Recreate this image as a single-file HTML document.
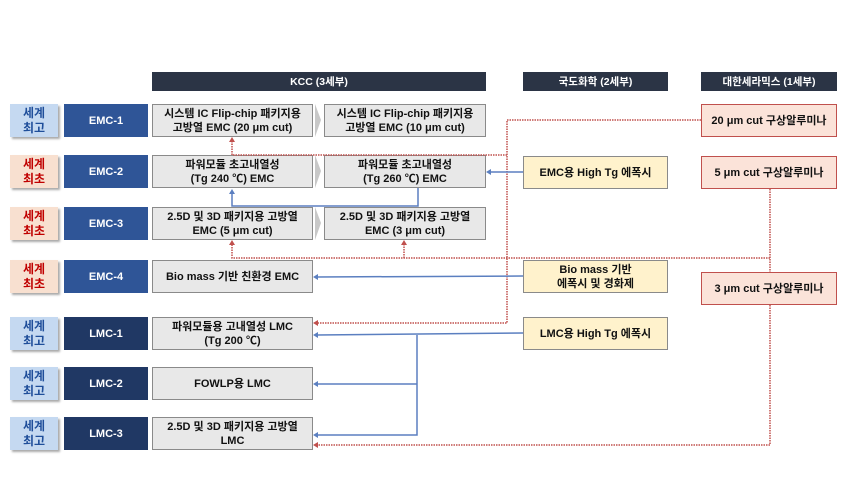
<!DOCTYPE html>
<html><head><meta charset="utf-8"><style>
body{margin:0;background:#fff;}
#c{position:relative;width:848px;height:496px;overflow:hidden;font-family:"Liberation Sans","Noto Sans CJK KR",sans-serif;font-weight:bold;}
.b{position:absolute;display:flex;align-items:center;justify-content:center;text-align:center;box-sizing:border-box;font-size:11px;line-height:14px;}
.h{background:#2b3445;color:#fff;font-size:10.5px;}
.top{background:#c5d9f1;color:#1f4e9a;box-shadow:2px 2px 2px #aaa;font-size:12px;line-height:15px;}
.fst{background:#f8e0d0;color:#c00000;box-shadow:2px 2px 2px #aaa;font-size:12px;line-height:15px;}
.e{background:#2f5597;color:#fff;}
.l{background:#203864;color:#fff;}
.g{background:#e8e8e8;border:1px solid #8a8a8a;color:#111;}
.y{background:#fff2cc;border:1px solid #8a8a8a;color:#111;}
.p{background:#fbe3d9;border:1.5px solid #c0504d;color:#111;}
svg{position:absolute;left:0;top:0;}
</style></head><body><div id="c">
<div class="b h" style="left:152px;top:72px;width:334px;height:19px">KCC (3세부)</div>
<div class="b h" style="left:523px;top:72px;width:145px;height:19px">국도화학 (2세부)</div>
<div class="b h" style="left:701px;top:72px;width:136px;height:19px">대한세라믹스 (1세부)</div>

<div class="b top" style="left:10px;top:104px;width:48px;height:33px">세계<br>최고</div>
<div class="b fst" style="left:10px;top:155px;width:48px;height:33px">세계<br>최초</div>
<div class="b fst" style="left:10px;top:207px;width:48px;height:33px">세계<br>최초</div>
<div class="b fst" style="left:10px;top:260px;width:48px;height:33px">세계<br>최초</div>
<div class="b top" style="left:10px;top:317px;width:48px;height:33px">세계<br>최고</div>
<div class="b top" style="left:10px;top:367px;width:48px;height:33px">세계<br>최고</div>
<div class="b top" style="left:10px;top:417px;width:48px;height:33px">세계<br>최고</div>

<div class="b e" style="left:64px;top:104px;width:84px;height:33px">EMC-1</div>
<div class="b e" style="left:64px;top:155px;width:84px;height:33px">EMC-2</div>
<div class="b e" style="left:64px;top:207px;width:84px;height:33px">EMC-3</div>
<div class="b e" style="left:64px;top:260px;width:84px;height:33px">EMC-4</div>
<div class="b l" style="left:64px;top:317px;width:84px;height:33px">LMC-1</div>
<div class="b l" style="left:64px;top:367px;width:84px;height:33px">LMC-2</div>
<div class="b l" style="left:64px;top:417px;width:84px;height:33px">LMC-3</div>

<div class="b g" style="left:152px;top:104px;width:161px;height:33px">시스템 IC Flip-chip 패키지용<br>고방열 EMC (20 μm cut)</div>
<div class="b g" style="left:324px;top:104px;width:162px;height:33px">시스템 IC Flip-chip 패키지용<br>고방열 EMC (10 μm cut)</div>
<div class="b g" style="left:152px;top:155px;width:161px;height:33px">파워모듈 초고내열성<br>(Tg 240 ℃) EMC</div>
<div class="b g" style="left:324px;top:155px;width:162px;height:33px">파워모듈 초고내열성<br>(Tg 260 ℃) EMC</div>
<div class="b g" style="left:152px;top:207px;width:161px;height:33px">2.5D 및 3D 패키지용 고방열<br>EMC (5 μm cut)</div>
<div class="b g" style="left:324px;top:207px;width:162px;height:33px">2.5D 및 3D 패키지용 고방열<br>EMC (3 μm cut)</div>
<div class="b g" style="left:152px;top:260px;width:161px;height:33px">Bio mass 기반 친환경 EMC</div>
<div class="b g" style="left:152px;top:317px;width:161px;height:33px">파워모듈용 고내열성 LMC<br>(Tg 200 ℃)</div>
<div class="b g" style="left:152px;top:367px;width:161px;height:33px">FOWLP용 LMC</div>
<div class="b g" style="left:152px;top:417px;width:161px;height:33px">2.5D 및 3D 패키지용 고방열<br>LMC</div>

<div class="b y" style="left:523px;top:156px;width:145px;height:33px">EMC용 High Tg 에폭시</div>
<div class="b y" style="left:523px;top:260px;width:145px;height:33px">Bio mass 기반<br>에폭시 및 경화제</div>
<div class="b y" style="left:523px;top:317px;width:145px;height:33px">LMC용 High Tg 에폭시</div>

<div class="b p" style="left:701px;top:104px;width:136px;height:33px">20 μm cut 구상알루미나</div>
<div class="b p" style="left:701px;top:156px;width:136px;height:33px">5 μm cut 구상알루미나</div>
<div class="b p" style="left:701px;top:272px;width:136px;height:33px">3 μm cut 구상알루미나</div>

<svg width="848" height="496">
<g fill="#c8c8c8">
<polygon points="315,104 321,120 315,137"/>
<polygon points="315,155 321,171 315,188"/>
<polygon points="315,207 321,223 315,240"/>
</g>
<g fill="none" stroke="#c0504d" stroke-width="1.5" stroke-dasharray="1.5,1">
<polyline points="701,120 507,120 507,323 315,323"/>
<polyline points="507,155 232,155 232,140"/>
<polyline points="770,189 770,272"/>
<polyline points="770,258 232,258 232,243"/>
<polyline points="404,258 404,243"/>
<polyline points="770,305 770,445 315,445"/>
</g>
<g fill="#c0504d">
<polygon points="232,137 229,142 235,142"/>
<polygon points="232,240 229,245 235,245"/>
<polygon points="404,240 401,245 407,245"/>
<polygon points="313,323 318,320 318,326"/>
<polygon points="313,445 318,442 318,448"/>
</g>
<g fill="none" stroke="#5b7fc0" stroke-width="1.5">
<polyline points="523,172 490,172"/>
<polyline points="418,188 418,206 232,206 232,193"/>
<polyline points="523,276 317,277"/>
<polyline points="523,333 317,335"/>
<polyline points="417,335 417,435 317,435"/>
<polyline points="417,384 317,384"/>
</g>
<g fill="#5b7fc0">
<polygon points="486,172 491,169 491,175"/>
<polygon points="232,189 229,194 235,194"/>
<polygon points="313,277 318,274 318,280"/>
<polygon points="313,335 318,332 318,338"/>
<polygon points="313,384 318,381 318,387"/>
<polygon points="313,435 318,432 318,438"/>
</g>
</svg>
</div></body></html>
